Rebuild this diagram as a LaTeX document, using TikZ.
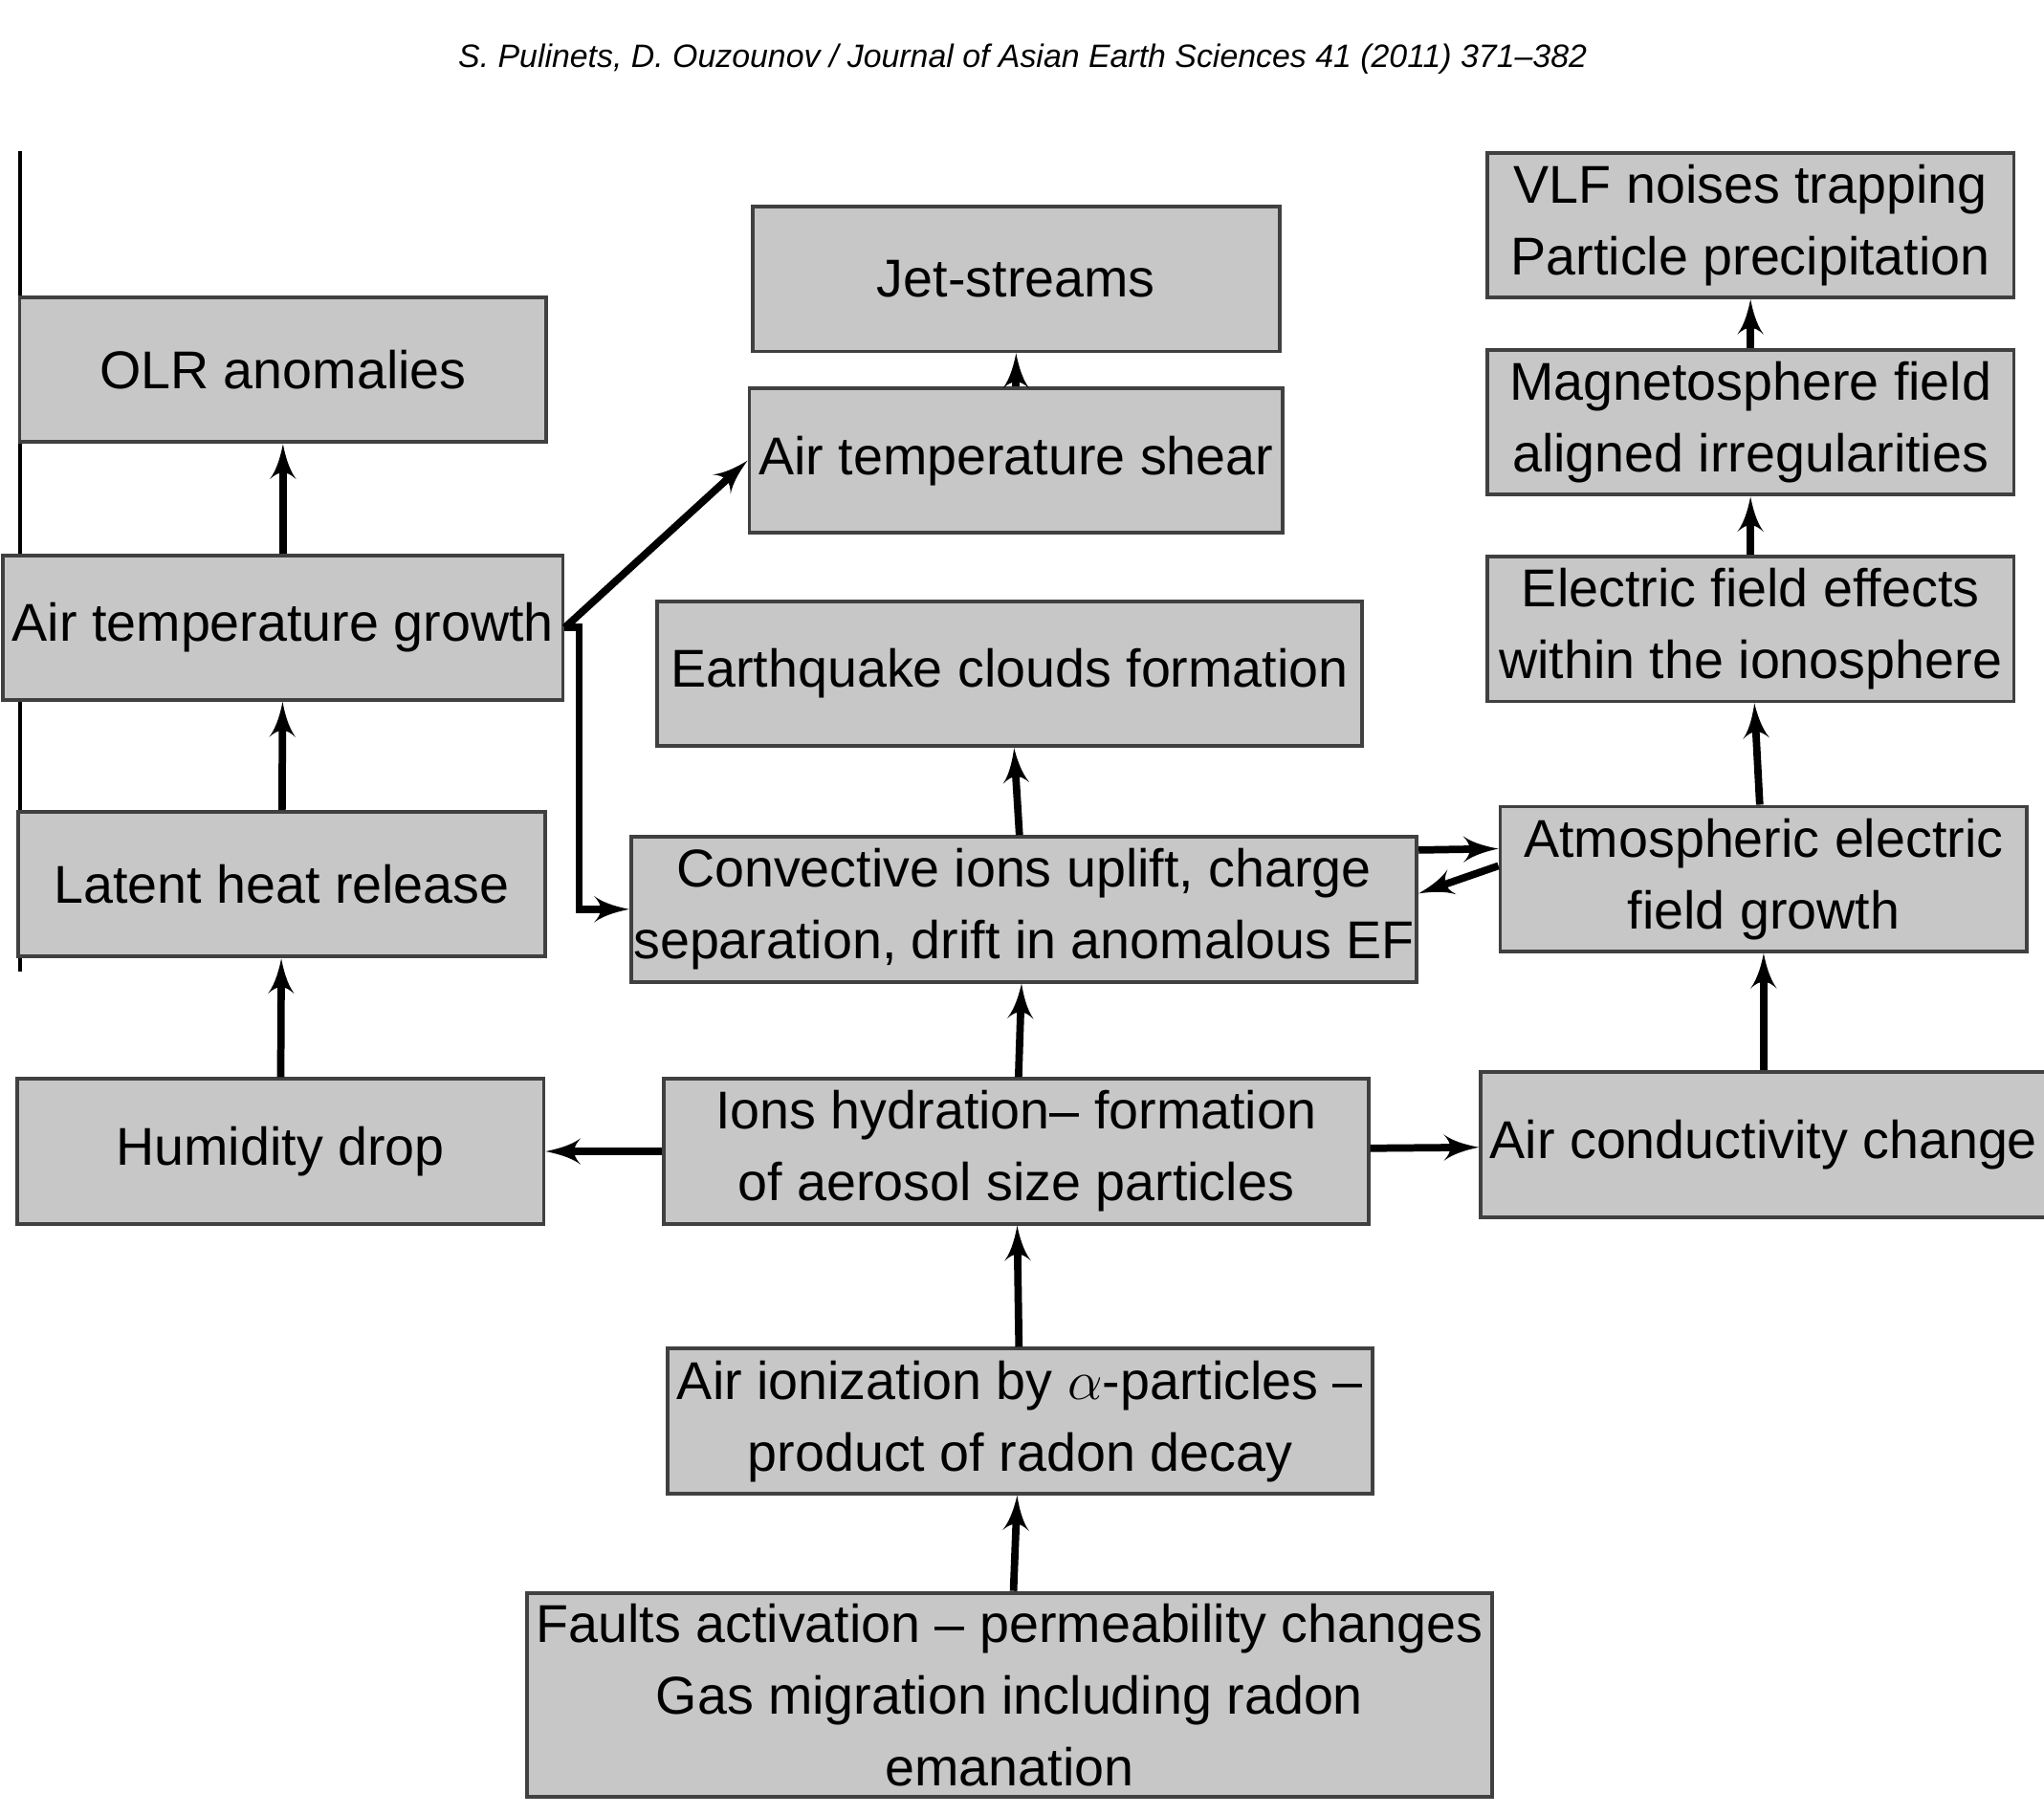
\documentclass[tikz,border=0pt]{standalone}
\usepackage{fontspec}
\setmainfont{Liberation Sans}
\usepackage{tikz}
\usetikzlibrary{shapes,arrows}
\begin{document}
\begin{tikzpicture}[x=0.01cm,y=-0.01cm]
				\tikzstyle{common} = [draw=black!75, thick, align=center, inner sep=0.2em, font=\fontsize{11.5}{15.5}\selectfont]
				\tikzstyle{block} = [rectangle, common, fill=black!22, minimum width=4cm, minimum height=1.1cm]
				\tikzstyle{wide} = [block, minimum width=5.35cm]
				\tikzstyle{line} = [draw, ultra thick, -latex']
				\useasboundingbox (0,0) rectangle (1553,1379);
				\node[font=\itshape\fontsize{7}{8}\selectfont] (head) at (777,45) {S. Pulinets, D. Ouzounov / Journal of Asian Earth Sciences 41 (2011) 371--382};
				\draw[thick] (15,115) -- (15,738);
				\node[block] (olr) at (215,281) {OLR anomalies};
				\node[block] (atg) at (215,477) {Air temperature growth};
				\node[block] (latent) at (214,672) {Latent heat release};
				\node[block] (humid) at (213,875) {Humidity drop};
				\node[block] (jet) at (772,212) {Jet-streams};
				\node[block] (shear) at (772,350) {Air temperature shear};
				\node[wide] (clouds) at (767,512) {Earthquake clouds formation};
				\node[wide, inner sep=0.05em] (conv) at (778,691) {Convective ions uplift, charge\\separation, drift in anomalous EF};
				\node[wide] (hydr) at (772,875) {Ions hydration-- formation\\of aerosol size particles};
				\node[wide] (ioniz) at (775,1080) {Air ionization by $\alpha$-particles --\\product of radon decay};
				\node[block, minimum width=7.05cm, minimum height=1.55cm] (faults) at (767,1288) {Faults activation -- permeability changes\\Gas migration including radon\\emanation};
				\node[block] (vlf) at (1330,171) {VLF noises trapping\\Particle precipitation};
				\node[block] (magn) at (1330,321) {Magnetosphere field\\aligned irregularities};
				\node[block] (eff) at (1330,478) {Electric field effects\\within the ionosphere};
				\node[block] (atm) at (1340,668) {Atmospheric electric\\field growth};
				\node[block] (cond) at (1340,870) {Air conductivity change};
				\draw[line] (humid) -- (latent);
				\draw[line] (latent) -- (atg);
				\draw[line] (atg) -- (olr);
				\draw[line] (atg.east) -- (shear.west);
				\draw[line] (atg.east) -- (440,477) |- (conv.west);
				\draw[line] (shear) -- (jet);
				\draw[line] (conv) -- (clouds);
				\draw[line] (hydr) -- (conv);
				\draw[line] (hydr) -- (humid);
				\draw[line] (hydr) -- (cond);
				\draw[line] (ioniz) -- (hydr);
				\draw[line] (faults) -- (ioniz);
				\draw[line] (cond) -- (atm);
				\draw[line] (atm) -- (eff);
				\draw[line] (eff) -- (magn);
				\draw[line] (magn) -- (vlf);
				\draw[line] ([yshift=0.45cm]conv.east) -- ([yshift=0.23cm]atm.west);
				\draw[line] ([yshift=0.1cm]atm.west) -- ([yshift=0.12cm]conv.east);
			\end{tikzpicture}
\end{document}
